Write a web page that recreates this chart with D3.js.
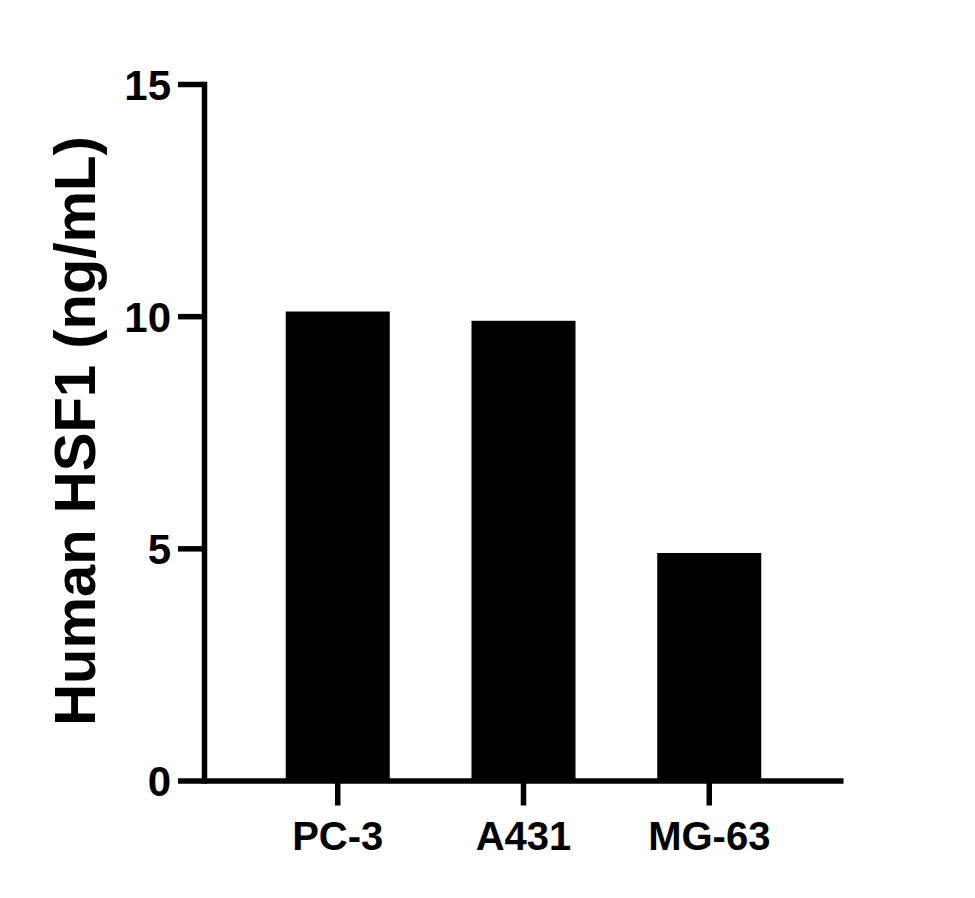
<!DOCTYPE html>
<html>
<head>
<meta charset="utf-8">
<script src="https://cdn.jsdelivr.net/npm/d3@7"></script>
<style>
  body { margin: 0; background: #fff; }
  svg { display: block; }
</style>
</head>
<body>
<script>

// data
const cellLines = ["PC-3", "A431", "MG-63"];
const hsf1Values = [10.1, 9.9, 4.9];
const yTicks = [0, 5, 10, 15];
const yLabel = "Human HSF1 (ng/mL)";

function makePlot(){

    const width = 975;
    const height = 898;
    const axisLeft = 204;
    const axisRight = 843;
    const axisBottom = 780.5;
    const axisTop = 84;
    const font = "'Liberation Sans', Arial, Helvetica, sans-serif";

    const data = cellLines.map((c, i) => ({name: c, value: hsf1Values[i]}));

    const x = d3.scaleBand()
        .domain(cellLines)
        .range([axisLeft, axisRight])
        .paddingInner(0.44)
        .paddingOuter(0.44);

    const y = d3.scaleLinear()
        .domain([0, 15])
        .range([axisBottom, axisTop]);

    const svg = d3.create("svg")
        .attr("width", width)
        .attr("height", height)
        .attr("viewBox", [0, 0, width, height]);

    document.body.appendChild(svg.node());

    svg.append("rect")
        .attr("width", width)
        .attr("height", height)
        .attr("fill", "white");

    // bars
    svg.append("g")
        .selectAll()
        .data(data)
        .join("rect")
        .attr("x", d => x(d.name))
        .attr("y", d => y(d.value))
        .attr("width", x.bandwidth())
        .attr("height", d => y(0) - y(d.value))
        .attr("fill", "black");

    // y axis
    svg.append("g")
        .attr("transform", `translate(${axisLeft},0)`)
        .call(d3.axisLeft(y).tickValues(yTicks).tickSize(26).tickSizeOuter(0).tickPadding(7))
        .call(g => g.select(".domain").attr("stroke-width", 5.5).attr("stroke-linecap", "square"))
        .call(g => g.selectAll(".tick line").attr("stroke-width", 5.5))
        .call(g => g.selectAll(".tick text")
            .attr("font-family", font)
            .attr("font-weight", "bold")
            .attr("font-size", 42)
            .attr("fill", "black")
            .attr("dy", "0.36em"));

    // x axis
    svg.append("g")
        .attr("transform", `translate(0,${axisBottom})`)
        .call(d3.axisBottom(x).tickSize(25).tickSizeOuter(0).tickPadding(16))
        .call(g => g.select(".domain").attr("stroke-width", 5.5))
        .call(g => g.selectAll(".tick line").attr("stroke-width", 5.5))
        .call(g => g.selectAll(".tick text")
            .attr("font-family", font)
            .attr("font-weight", "bold")
            .attr("font-size", 40)
            .attr("fill", "black"));

    // y axis title
    svg.append("text")
        .attr("transform", "translate(95,431) rotate(-90)")
        .attr("text-anchor", "middle")
        .attr("font-family", font)
        .attr("font-weight", "bold")
        .attr("font-size", 58)
        .attr("fill", "black")
        .text(yLabel);

    return svg.node();
}

makePlot();
</script>
</body>
</html>
